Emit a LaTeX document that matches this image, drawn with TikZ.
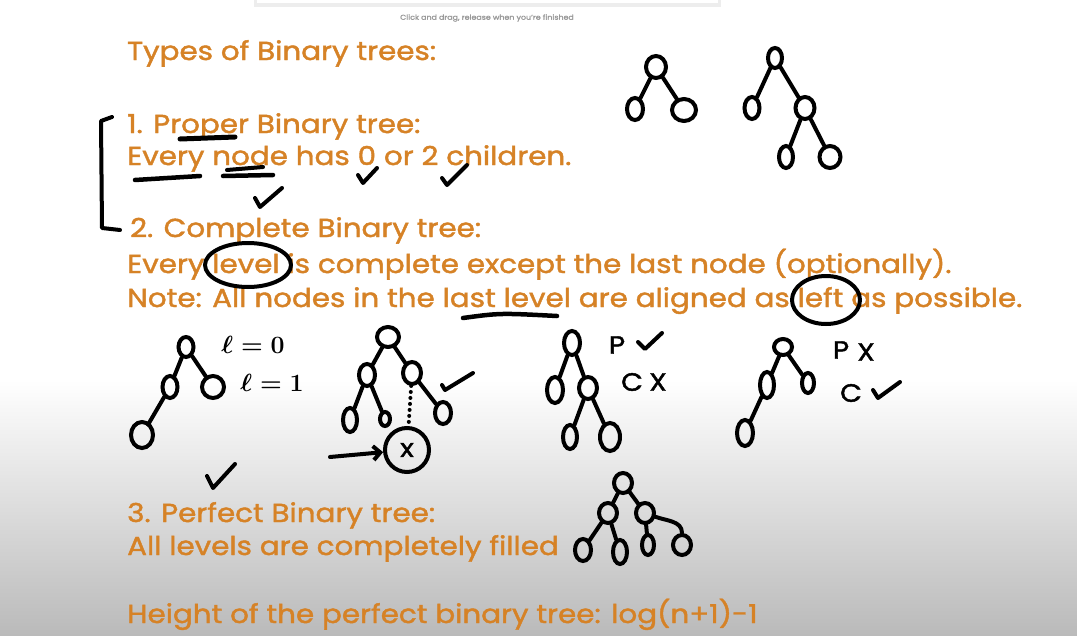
\documentclass[tikz,border=0pt]{standalone}
\usepackage{fontspec}
\setmainfont{Poppins}[FakeBold=1.6, FakeStretch=1.13]
\usetikzlibrary{shapes.geometric,arrows.meta}

\definecolor{boardorange}{RGB}{214,130,38}
\definecolor{boardgray}{RGB}{186,186,186}

\tikzset{
  txt/.style={anchor=base west, inner sep=0pt, text=boardorange, font=\fontsize{26}{30}\selectfont},
  lbl/.style={inner sep=0pt, font=\fontsize{25}{30}\selectfont\mathversion{bold}},
  tn/.style={draw, ellipse, line width=4pt, minimum width=17pt, minimum height=22pt, inner sep=0pt},
  pen/.style={line width=4pt, line cap=round, line join=round},
}

\begin{document}
\begin{tikzpicture}[x=1pt, y=-1pt]
        % Board
        \fill[white] (0,0) rectangle (1077,635);
        \shade[top color=white, bottom color=boardgray] (0,380) rectangle (1077,635);
        \useasboundingbox (0,0) rectangle (1077,635);
        \fill[black!7] (254,0) rectangle (721,7);
        \fill[white] (257,0) rectangle (718,3);
        \node[font=\fontsize{7}{8}\selectfont, text=black!40] (hint) at (487,18) {Click and drag, release when you're finished};

        % Text
        \node[txt] (title) at (127,60) {Types of Binary trees:};
        \node[txt] (prop) at (127,133) {1. Proper Binary tree:};
        \node[txt] (propdef) at (127,165) {Every node has 0 or 2 children.};
        \node[txt] (comp) at (130,237) {2. Complete Binary tree:};
        \node[txt] (compdef) at (127,273) {Every level is complete except the last node (optionally).};
        \node[txt] (compnote) at (127,307) {Note: All nodes in the last level are aligned as left as possible.};
        \node[txt] (perf) at (127,522) {3. Perfect Binary tree:};
        \node[txt] (perfdef) at (127,555) {All levels are completely filled};
        \node[txt] (height) at (127,623) {Height of the perfect binary tree: log(n+1)-1};

        % Marks on the text
        \draw[pen] (112,117) -- (101,121) -- (102,228) -- (120,230);
        \draw[pen, line width=5pt] (180,139) -- (235,137);
        \draw[pen, line width=4.5pt] (135,180) -- (200,176);
        \draw[pen] (227,170) -- (263,167);
        \draw[pen, line width=4.5pt] (223,176) -- (273,175);
        \draw[pen] (358,175) -- (363,183) -- (377,168);
        \draw[pen] (442,178) -- (447,185) -- (467,165);
        \draw[pen] (255,198) -- (260,207) -- (282,188);
        \draw[pen] (248,265) ellipse [x radius=43, y radius=22];
        \draw[pen] (826,300) ellipse [x radius=34, y radius=24];
        \draw[pen, line width=4.5pt] (463,318) .. controls (500,313) .. (557,316);

        % Nodes: proper trees
        \node[tn, minimum width=20pt] (pa) at (656,67) {};
        \node[tn, minimum width=16pt] (pb) at (635,109) {};
        \node[tn, minimum width=24pt] (pc) at (684,110) {};
        \node[tn, minimum width=14pt, minimum height=20pt] (qa) at (775,58) {};
        \node[tn, minimum width=15pt] (qb) at (752,108) {};
        \node[tn, minimum width=19pt] (qc) at (805,108) {};
        \node[tn, minimum width=14pt] (qd) at (786,157) {};
        \node[tn, minimum width=21pt] (qe) at (830,157) {};

        % Nodes: complete trees
        \node[tn, minimum width=15pt, minimum height=20pt] (ca) at (186,347) {};
        \node[tn, minimum width=15pt] (cb) at (170,387) {};
        \node[tn, minimum width=22pt] (cc) at (213,387) {};
        \node[tn, minimum width=22pt, minimum height=26pt] (cd) at (142,435) {};
        \node[lbl] (lv0) at (253,345) {$\ell=0$};
        \node[lbl] (lv1) at (272,383) {$\ell=1$};
        \draw[pen] (207,476) -- (213,488) -- (235,464);

        \node[tn, minimum width=22pt, minimum height=20pt] (da) at (388,337) {};
        \node[tn, minimum width=16pt] (db) at (367,375) {};
        \node[tn, minimum width=18pt] (dc) at (412,373) {};
        \node[tn, minimum width=14pt, minimum height=24pt] (dd) at (350,420) {};
        \node[tn, minimum width=10pt, minimum height=14pt] (de) at (385,419) {};
        \node[tn, minimum width=16pt] (df) at (443,413) {};
        \node[tn, circle, minimum size=44pt, lbl] (dx) at (407,450) {x};
        \coordinate (arrtail) at (330,457);
        \draw[pen] (442,385) -- (445,390) -- (473,373);

        \node[tn, minimum width=16pt, minimum height=24pt] (ea) at (572,343) {};
        \node[tn, minimum width=16pt, minimum height=26pt] (eb) at (555,390) {};
        \node[tn, minimum width=18pt] (ec) at (588,388) {};
        \node[tn, minimum width=14pt, minimum height=24pt] (ed) at (570,437) {};
        \node[tn, minimum width=20pt, minimum height=28pt] (ee) at (610,437) {};
        \node[lbl] (ep) at (617,345) {P};
        \node[lbl] (ecx) at (632,382) {C};
        \node[lbl] (exx) at (658,382) {X};
        \draw[pen] (638,342) -- (645,349) -- (662,333);

        \node[tn, minimum width=18pt, minimum height=16pt] (fa) at (783,347) {};
        \node[tn, minimum width=14pt, minimum height=26pt] (fb) at (767,385) {};
        \node[tn, minimum width=12pt, minimum height=20pt] (fc) at (808,383) {};
        \node[tn, minimum width=16pt, minimum height=26pt] (fd) at (745,433) {};
        \node[lbl] (fp) at (841,350) {P};
        \node[lbl] (fpx) at (866,352) {X};
        \node[lbl] (fcc) at (851,393) {C};
        \draw[pen] (873,390) -- (878,398) -- (900,382);

        % Nodes: perfect tree
        \node[tn, minimum width=18pt, minimum height=20pt] (ga) at (623,483) {};
        \node[tn, minimum width=18pt, minimum height=20pt] (gb) at (608,513) {};
        \node[tn, minimum width=18pt, minimum height=20pt] (gc) at (645,513) {};
        \node[tn, minimum width=16pt] (gd) at (583,550) {};
        \node[tn, minimum width=14pt, minimum height=24pt] (ge) at (620,552) {};
        \node[tn, minimum width=12pt, minimum height=20pt] (gf) at (648,545) {};
        \node[tn, minimum width=18pt, minimum height=20pt] (gg) at (682,545) {};

        % Edges
        \draw[pen] (pa) -- (pb);
        \draw[pen] (pa) -- (pc);
        \draw[pen] (qa) -- (qb);
        \draw[pen] (qa) -- (qc);
        \draw[pen] (qc) -- (qd);
        \draw[pen] (qc) -- (qe);
        \draw[pen] (ca) -- (cb);
        \draw[pen] (ca) -- (cc);
        \draw[pen] (cb) -- (cd);
        \draw[pen] (da) -- (db);
        \draw[pen] (da) -- (dc);
        \draw[pen] (db) -- (dd);
        \draw[pen] (db) -- (de);
        \draw[pen] (dc) -- (df);
        \draw[pen, dash pattern=on 0pt off 6pt] (dc) -- (dx);
        \draw[pen, -{Straight Barb[length=7pt,width=14pt]}] (arrtail) -- (dx);
        \draw[pen] (ea) -- (eb);
        \draw[pen] (ea) -- (ec);
        \draw[pen] (ec) -- (ed);
        \draw[pen] (ec) -- (ee);
        \draw[pen] (fa) -- (fb);
        \draw[pen] (fa) -- (fc);
        \draw[pen] (fb) -- (fd);
        \draw[pen] (ga) -- (gb);
        \draw[pen] (ga) -- (gc);
        \draw[pen] (gb) -- (gd);
        \draw[pen] (gb) -- (ge);
        \draw[pen] (gc) -- (gf);
        \draw[pen] (gc) to[out=-20, in=90] (gg);
    \end{tikzpicture}
\end{document}
